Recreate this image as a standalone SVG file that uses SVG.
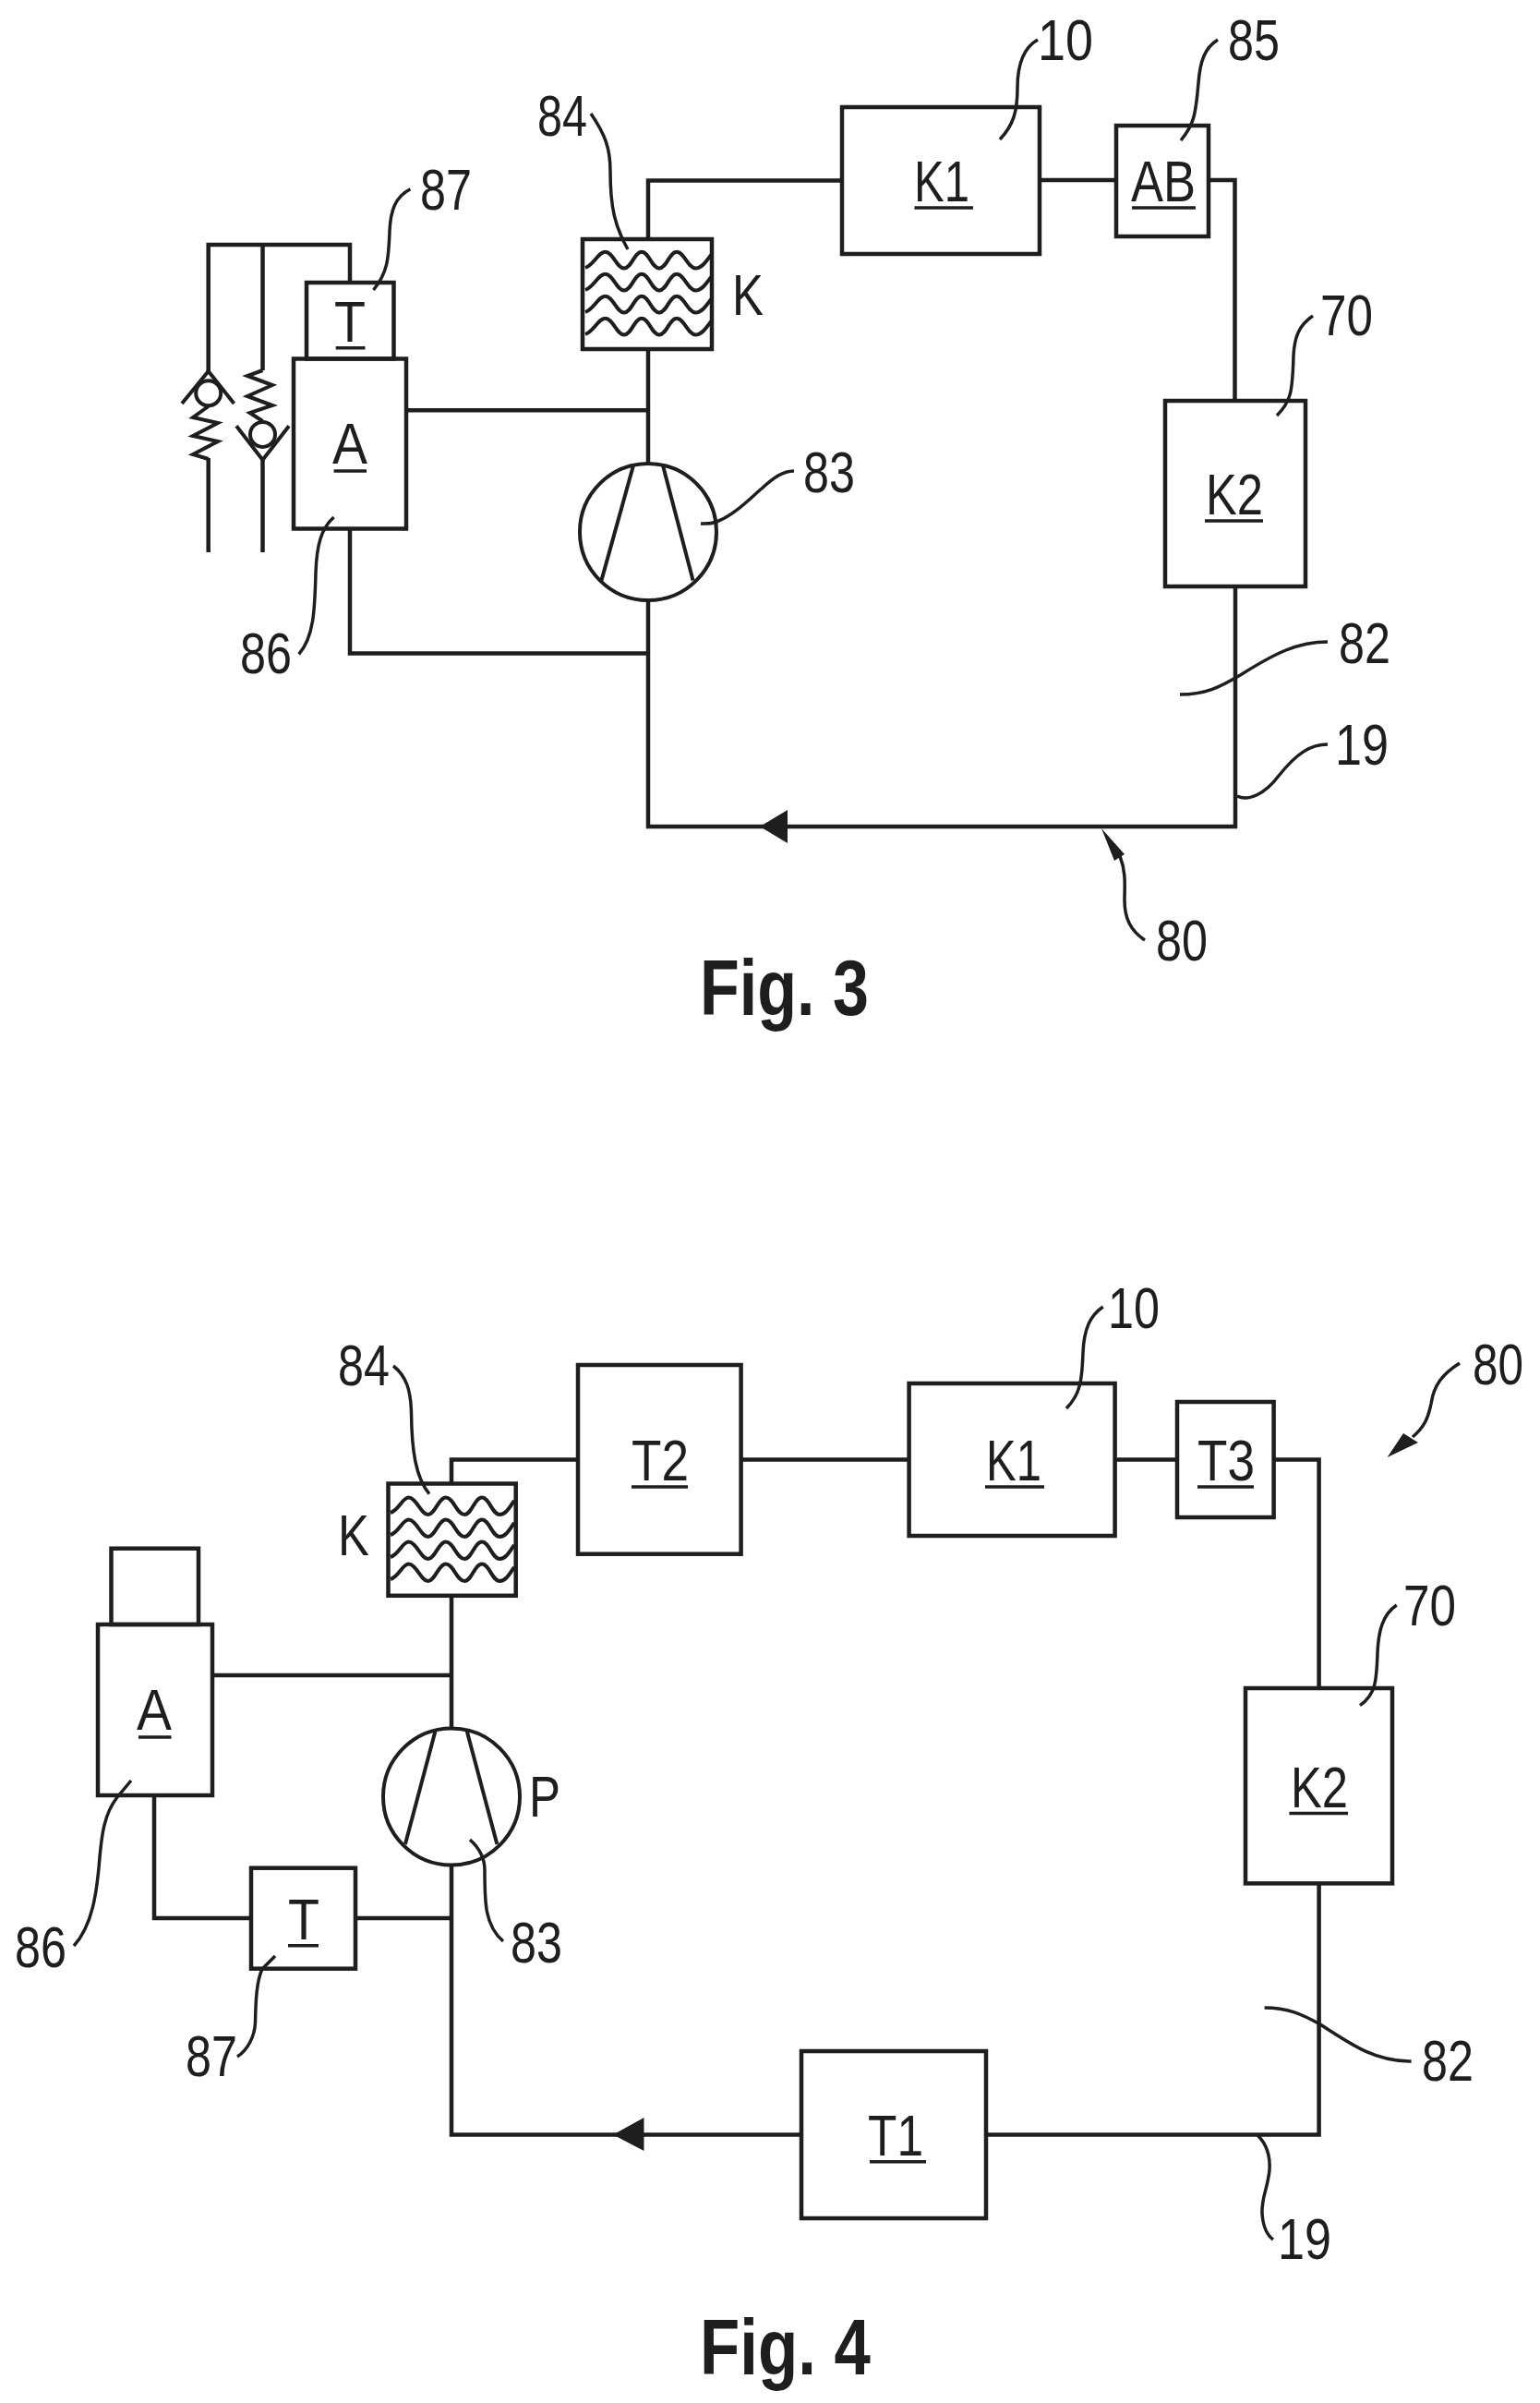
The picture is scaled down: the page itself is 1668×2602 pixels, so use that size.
<svg xmlns="http://www.w3.org/2000/svg" width="1668" height="2602" viewBox="0 0 1668 2602">
<style>
.b{fill:none;stroke:#1e1e1e;stroke-width:4.5;stroke-linejoin:miter}
.c{fill:none;stroke:#1e1e1e;stroke-width:4.5;stroke-linejoin:miter}
.w{fill:none;stroke:#1e1e1e;stroke-width:4}
.l{fill:none;stroke:#1e1e1e;stroke-width:3.5;stroke-linecap:butt}
.u{stroke:#1e1e1e;stroke-width:3.5}
.h{fill:#1e1e1e;stroke:none}
text{font-family:"Liberation Sans",Arial,sans-serif;font-size:63px;fill:#1e1e1e}
.f{font-weight:bold;font-size:85px}
</style>
<defs>
<path id="w3" class="w" d="M634 290 C644 286 648 272.700 655.500 272.700 C664 272.700 668 290.500 676 290.500 C684 290.500 687 272.700 695 272.700 C703 272.700 706 290.500 714 290.500 C722 290.500 725 272.700 733 272.700 C741 272.700 745 290.500 753.500 290.500 C760 290.500 765 283 770 276"/>
<path id="w4" class="w" d="M423 1638 C432 1635 436 1621.600 442.700 1621.600 C451 1621.600 456 1640 463.700 1640 C471 1640 475 1621.600 483 1621.600 C491 1621.600 495 1640 503 1640 C511 1640 514 1621.600 522 1621.600 C530 1621.600 533 1640 541.400 1640 C548 1640 552 1632 557 1625"/>
</defs>

<g id="connectors">
<path class="c" d="M702 259V195.500H912"/>
<path class="c" d="M1126 195H1209"/>
<path class="c" d="M1309 195H1337.500V434"/>
<path class="c" d="M1338 635V895H702V650"/>
<path class="c" d="M702 378V502"/>
<path class="c" d="M440 444.300H702"/>
<path class="c" d="M379 572.500V707.600H702"/>
<path class="c" d="M379 306V265H225.700V402"/>
<path class="c" d="M284.500 265V401"/>
<path class="c" d="M225.700 496V598"/>
<path class="c" d="M284.500 498V598"/>
<polygon class="h" points="823,895 853,877 853,913"/>

<path class="c" d="M489 1606.500V1580.500H626"/>
<path class="c" d="M802.600 1580.500H984.600"/>
<path class="c" d="M1207.600 1580.500H1275"/>
<path class="c" d="M1379.600 1580.500H1428.600V1828"/>
<path class="c" d="M1428.600 2039.400V2311.500H1068"/>
<path class="c" d="M868 2311.500H489V2019.600"/>
<path class="c" d="M489 1727.800V1871.400"/>
<path class="c" d="M230 1814H489"/>
<path class="c" d="M167 1944V2077H272"/>
<path class="c" d="M385 2077H489"/>
<polygon class="h" points="664,2311.500 697.500,2293 697.500,2329"/>
</g>

<g id="fig3-valve-left">
<circle class="w" cx="225.700" cy="425.700" r="13.500"/>
<path class="w" d="M197 437 L225.700 402 L253.500 437"/>
<path class="w" d="M225.700 440 L209 452 L236 458 L209 472 L236 478 L209 492 L225.700 497"/>
</g>
<g id="fig3-valve-right">
<circle class="w" cx="284.500" cy="470.400" r="13.500"/>
<path class="w" d="M256 461.300 L284.500 498 L313 461.300"/>
<path class="w" d="M284.500 401 L268 407 L295 417 L268 429 L295 439 L270.600 447 L284.500 456"/>
</g>
<g id="fig3-T">
<rect class="b" x="332" y="306" width="94.500" height="82.500"/>
<text x="362" y="369.600" textLength="34" lengthAdjust="spacingAndGlyphs">T</text>
<line class="u" x1="363.700" y1="376.700" x2="395.500" y2="376.700"/>
</g>
<g id="fig3-A">
<rect class="b" x="318" y="388.500" width="122" height="184"/>
<text x="360" y="502" textLength="38" lengthAdjust="spacingAndGlyphs">A</text>
<line class="u" x1="361.600" y1="510" x2="397" y2="510"/>
</g>
<g id="fig3-cooler">
<rect class="b" x="631" y="259" width="140" height="119"/>
<use href="#w3"/>
<use href="#w3" y="24"/>
<use href="#w3" y="48"/>
<use href="#w3" y="72"/>
<text x="793" y="341" textLength="34" lengthAdjust="spacingAndGlyphs">K</text>
</g>
<g id="fig3-pump">
<circle class="w" cx="702" cy="576" r="74"/>
<path class="w" d="M686 504 L651.400 628.600 M718 504 L750.600 628.600"/>
</g>
<g id="fig3-K1">
<rect class="b" x="912" y="116" width="214" height="159"/>
<text x="990" y="218" textLength="60" lengthAdjust="spacingAndGlyphs">K1</text>
<line class="u" x1="990.500" y1="225" x2="1054" y2="225"/>
</g>
<g id="fig3-AB">
<rect class="b" x="1209" y="136" width="100" height="120"/>
<text x="1225" y="218" textLength="70" lengthAdjust="spacingAndGlyphs">AB</text>
<line class="u" x1="1226" y1="225" x2="1295" y2="225"/>
</g>
<g id="fig3-K2">
<rect class="b" x="1262" y="434" width="152" height="201"/>
<text x="1306" y="557" textLength="62" lengthAdjust="spacingAndGlyphs">K2</text>
<line class="u" x1="1305" y1="564" x2="1368" y2="564"/>
</g>

<g id="fig3-refs">
<g id="r3-84"><text x="582" y="147" textLength="54" lengthAdjust="spacingAndGlyphs">84</text><path class="l" d="M640 123 C655 145 661 160 661 185 C661 225 666 245 680 270"/></g>
<g id="r3-10"><text x="1124" y="65" textLength="60" lengthAdjust="spacingAndGlyphs">10</text><path class="l" d="M1124 43 C1108 52 1102 70 1102 95 C1102 120 1098 135 1083 151"/></g>
<g id="r3-85"><text x="1330" y="65" textLength="56" lengthAdjust="spacingAndGlyphs">85</text><path class="l" d="M1319 43 C1305 52 1300 65 1298 90 C1295 125 1293 135 1279 152"/></g>
<g id="r3-70"><text x="1430" y="363" textLength="57" lengthAdjust="spacingAndGlyphs">70</text><path class="l" d="M1422 342 C1407 352 1402 365 1401 385 C1400 425 1398 435 1383 450"/></g>
<g id="r3-82"><text x="1450" y="718" textLength="56" lengthAdjust="spacingAndGlyphs">82</text><path class="l" d="M1278 752 C1305 752 1320 745 1345 730 C1380 708 1405 695 1438 695"/></g>
<g id="r3-19"><text x="1446" y="828" textLength="58" lengthAdjust="spacingAndGlyphs">19</text><path class="l" d="M1340 862 C1352 868 1370 860 1385 840 C1405 815 1420 806 1438 806"/></g>
<g id="r3-80"><text x="1252" y="1040" textLength="56" lengthAdjust="spacingAndGlyphs">80</text><path class="l" d="M1213 927 C1220 945 1218 960 1218 975 C1218 995 1225 1008 1240 1018"/><polygon class="h" points="1193,897 1218,925 1207,932"/></g>
<g id="r3-83"><text x="870" y="533" textLength="56" lengthAdjust="spacingAndGlyphs">83</text><path class="l" d="M759 567 C762 567 768 568 776 565 C795 558 812 540 825 529 C838 517 848 510 860 510"/></g>
<g id="r3-86"><text x="260" y="729" textLength="56" lengthAdjust="spacingAndGlyphs">86</text><path class="l" d="M361.600 560 C348 572 343 590 342 620 C341 660 340 690 323.700 708.400"/></g>
<g id="r3-87"><text x="455" y="227" textLength="56" lengthAdjust="spacingAndGlyphs">87</text><path class="l" d="M444.500 204.700 C428 213 423 228 422 250 C421 280 420 295 404.500 314"/></g>
</g>
<text id="fig3-caption" class="f" x="758" y="1099" textLength="183" lengthAdjust="spacingAndGlyphs">Fig. 3</text>

<g id="fig4-cap"><rect class="b" x="120.500" y="1676.700" width="94.500" height="82.300"/></g>
<g id="fig4-A">
<rect class="b" x="106" y="1759" width="124" height="185"/>
<text x="148" y="1872.600" textLength="38" lengthAdjust="spacingAndGlyphs">A</text>
<line class="u" x1="150" y1="1881" x2="185.500" y2="1881"/>
</g>
<g id="fig4-cooler">
<rect class="b" x="420.500" y="1606.500" width="138.200" height="121.300"/>
<use href="#w4"/>
<use href="#w4" y="24"/>
<use href="#w4" y="48"/>
<use href="#w4" y="72"/>
<text x="366" y="1684" textLength="34" lengthAdjust="spacingAndGlyphs">K</text>
</g>
<g id="fig4-pump">
<circle class="w" cx="489" cy="1945.500" r="74"/>
<path class="w" d="M471.400 1874.700 L438.900 1997 M505.800 1874.700 L538.400 1997"/>
<text x="573" y="1967" textLength="34" lengthAdjust="spacingAndGlyphs">P</text>
</g>
<g id="fig4-T">
<rect class="b" x="272" y="2022.700" width="113" height="109"/>
<text x="312" y="2100" textLength="34" lengthAdjust="spacingAndGlyphs">T</text>
<line class="u" x1="312" y1="2106.700" x2="345" y2="2106.700"/>
</g>
<g id="fig4-T2">
<rect class="b" x="626" y="1478" width="176.600" height="204.700"/>
<text x="684" y="1602.700" textLength="62" lengthAdjust="spacingAndGlyphs">T2</text>
<line class="u" x1="684" y1="1610" x2="745" y2="1610"/>
</g>
<g id="fig4-K1">
<rect class="b" x="984.600" y="1498" width="223" height="165"/>
<text x="1068" y="1602.700" textLength="60" lengthAdjust="spacingAndGlyphs">K1</text>
<line class="u" x1="1067" y1="1610" x2="1131" y2="1610"/>
</g>
<g id="fig4-T3">
<rect class="b" x="1275" y="1518" width="104.600" height="125"/>
<text x="1297" y="1602.700" textLength="62" lengthAdjust="spacingAndGlyphs">T3</text>
<line class="u" x1="1297" y1="1610" x2="1358" y2="1610"/>
</g>
<g id="fig4-K2">
<rect class="b" x="1349" y="1828" width="159" height="211.400"/>
<text x="1398" y="1957" textLength="62" lengthAdjust="spacingAndGlyphs">K2</text>
<line class="u" x1="1396.400" y1="1963.600" x2="1460" y2="1963.600"/>
</g>
<g id="fig4-T1">
<rect class="b" x="868" y="2221" width="200" height="181"/>
<text x="940" y="2334" textLength="60" lengthAdjust="spacingAndGlyphs">T1</text>
<line class="u" x1="942" y1="2340.700" x2="1003" y2="2340.700"/>
</g>

<g id="fig4-refs">
<g id="r4-84"><text x="366" y="1500" textLength="56" lengthAdjust="spacingAndGlyphs">84</text><path class="l" d="M426 1479 C440 1490 445 1505 445.500 1530 C446 1570 450 1600 465 1617.600"/></g>
<g id="r4-10"><text x="1200" y="1438" textLength="56" lengthAdjust="spacingAndGlyphs">10</text><path class="l" d="M1194.700 1415 C1180 1425 1174 1440 1173 1465 C1172 1495 1170 1510 1155 1525"/></g>
<g id="r4-80"><text x="1595" y="1499" textLength="55" lengthAdjust="spacingAndGlyphs">80</text><path class="l" d="M1581 1476 C1562 1488 1553 1500 1550 1520 C1547 1535 1543 1545 1530 1556"/><polygon class="h" points="1502.600,1578 1520,1552 1536,1562"/></g>
<g id="r4-70"><text x="1520" y="1760" textLength="57" lengthAdjust="spacingAndGlyphs">70</text><path class="l" d="M1512.700 1738 C1498 1748 1493 1765 1492 1790 C1491 1820 1490 1835 1473 1846.600"/></g>
<g id="r4-82"><text x="1540" y="2253" textLength="56" lengthAdjust="spacingAndGlyphs">82</text><path class="l" d="M1369.600 2174 C1395 2174 1410 2181 1430 2192 C1465 2215 1490 2232 1528.600 2232"/></g>
<g id="r4-19"><text x="1384" y="2445.700" textLength="58" lengthAdjust="spacingAndGlyphs">19</text><path class="l" d="M1362.500 2312.600 C1372 2322 1376 2335 1375 2350 C1373 2370 1366 2380 1367 2397 C1368 2410 1372 2420 1379 2425"/></g>
<g id="r4-86"><text x="16" y="2130" textLength="56" lengthAdjust="spacingAndGlyphs">86</text><path class="l" d="M142 1928 L127 1946 C112 1965 110 1990 108 2011 C105 2050 100 2085 80 2107"/></g>
<g id="r4-87"><text x="201" y="2248" textLength="56" lengthAdjust="spacingAndGlyphs">87</text><path class="l" d="M298 2118 L284 2132 C278 2145 277 2165 276.500 2190 C276 2205 268 2220 257 2227"/></g>
<g id="r4-83"><text x="553" y="2125" textLength="56" lengthAdjust="spacingAndGlyphs">83</text><path class="l" d="M509 1992 C518 2000 525 2010 525 2025 C525 2060 525 2085 545 2102"/></g>
</g>
<text id="fig4-caption" class="f" x="758" y="2570.500" textLength="185" lengthAdjust="spacingAndGlyphs">Fig. 4</text>
</svg>
